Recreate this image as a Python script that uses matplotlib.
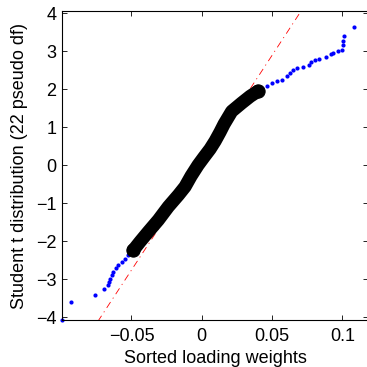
import matplotlib
matplotlib.use("Agg")
from matplotlib import pyplot as plt

plt.rcParams['font.family'] = ['Liberation Sans', 'DejaVu Sans']
plt.rcParams['lines.scale_dashes'] = False

# lower tail (blue dots)
low_x = [-0.0993, -0.0929, -0.0759, -0.0693, -0.0665, -0.0657, -0.0652,
         -0.0640, -0.0629, -0.0612, -0.0593, -0.0569, -0.0546, -0.0522, -0.0500]
low_y = [-4.08, -3.61, -3.42, -3.27, -3.16, -3.07, -3.01,
         -2.89, -2.81, -2.72, -2.63, -2.55, -2.46, -2.37, -2.29]

# upper tail (blue dots)
up_x = [0.0420, 0.0462, 0.0498, 0.0533, 0.0569, 0.0605, 0.0628, 0.0652, 0.0680,
        0.0723, 0.0765, 0.0777, 0.0806, 0.0834, 0.0884, 0.0917, 0.0936, 0.0967,
        0.0996, 0.1007, 0.1007, 0.1014, 0.1085]
up_y = [2.00, 2.08, 2.17, 2.21, 2.25, 2.34, 2.43, 2.50, 2.56,
        2.59, 2.63, 2.70, 2.76, 2.79, 2.83, 2.91, 2.94, 3.00,
        3.03, 3.16, 3.26, 3.40, 3.62]

# middle part (black circles)
mid_x = [-0.0486, -0.0439, -0.0380, -0.0309, -0.0238, -0.0166, -0.0119, -0.0076,
         -0.0026, 0.0016, 0.0059, 0.0095, 0.0130, 0.0159, 0.0213, 0.0284, 0.0344, 0.0398]
mid_y = [-2.237, -2.018, -1.755, -1.447, -1.097, -0.789, -0.571, -0.289,
         0.0, 0.211, 0.421, 0.632, 0.868, 1.079, 1.413, 1.632, 1.808, 1.939]

# reference line (red dash-dot)
ref_x = [-0.0740, 0.0720]
ref_y = [-4.12, 4.13]

fig = plt.figure(figsize=(3.67, 3.67), dpi=100)
ax = fig.add_axes([0.169, 0.128, 0.834, 0.842])

ax.plot(ref_x, ref_y, color='red', lw=0.6, dashes=(5, 3, 0.8, 3))
ax.plot(low_x, low_y, 'o', color='blue', ms=3, mew=0, clip_on=False)
ax.plot(up_x, up_y, 'o', color='blue', ms=3, mew=0)
ax.plot(mid_x, mid_y, '-', color='black', lw=9.5,
        solid_capstyle='round', solid_joinstyle='round')
ax.plot(mid_x[::len(mid_x) - 1], mid_y[::len(mid_y) - 1], 'o', color='black',
        ms=9.5, mfc='black', mew=0.8)

ax.set_xlim(-0.0994, 0.1183)
ax.set_ylim(-4.079, 4.053)
ax.set_xticks([-0.05, 0, 0.05, 0.1])
ax.set_xticklabels(['\u22120.05', '0', '0.05', '0.1'])
ax.set_yticks([-4, -3, -2, -1, 0, 1, 2, 3, 4])
ax.set_yticklabels(['\u22124', '\u22123', '\u22122', '\u22121', '0', '1', '2', '3', '4'])
ax.tick_params(direction='in', length=3.5, width=0.6, labelsize=13,
               top=True, right=True, pad=4)
ax.tick_params(axis='x', pad=6)
for s in ax.spines.values():
    s.set_linewidth(0.8)

ax.set_xlabel('Sorted loading weights', fontsize=13, labelpad=3)
ax.set_ylabel('Student t distribution (22 pseudo df)', fontsize=13, labelpad=6)

fig.savefig('out.png', dpi=100)
